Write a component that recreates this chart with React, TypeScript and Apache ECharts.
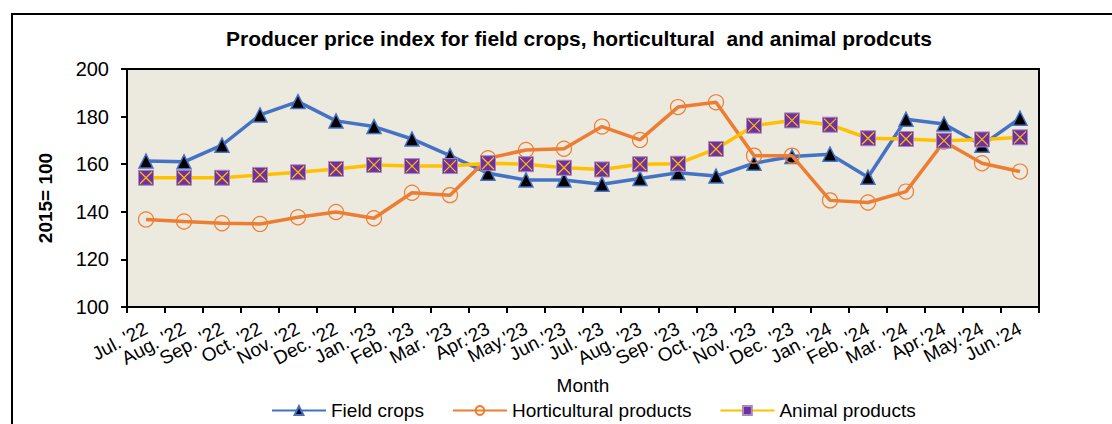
import React, { useEffect, useRef } from "react";
import * as echarts from "echarts";

const months = [
  "Jul. '22", "Aug. '22", "Sep. '22", "Oct. '22", "Nov. '22", "Dec. '22",
  "Jan. '23", "Feb. '23", "Mar. '23", "Apr.'23", "May.'23", "Jun.'23",
  "Jul. '23", "Aug. '23", "Sep. '23", "Oct. '23", "Nov. '23", "Dec. '23",
  "Jan. '24", "Feb. '24", "Mar. '24", "Apr.'24", "May.'24", "Jun.'24",
];

const fieldCrops = [
  161.3, 161.0, 168.0, 180.7, 186.3, 178.2, 175.8, 170.6, 163.6, 156.2, 153.4, 153.4,
  151.6, 154.0, 156.4, 155.0, 160.4, 163.2, 164.2, 154.5, 178.9, 176.9, 168.0, 179.3,
];

const horticultural = [
  136.8, 135.9, 135.2, 134.9, 137.7, 139.9, 137.3, 148.0, 147.0, 162.5, 166.0, 166.5,
  175.8, 170.2, 184.0, 186.0, 163.6, 163.6, 144.8, 143.9, 148.5, 169.5, 160.4, 156.9,
];

const animal = [
  154.3, 154.3, 154.3, 155.5, 156.6, 158.0, 159.7, 159.2, 159.2, 160.4, 160.0, 158.5,
  157.8, 160.0, 160.2, 166.4, 176.2, 178.4, 176.6, 170.9, 170.6, 169.9, 170.4, 171.3,
];

const yTicks = { min: 100, max: 200, interval: 20 };

const FONT = "'Liberation Sans', Arial, sans-serif";

export default function App() {
  const ref = useRef<HTMLDivElement>(null);

  useEffect(() => {
    if (!ref.current) return;
    const chart = echarts.init(ref.current, null, { renderer: "svg" });
    chart.setOption({
      animation: false,
      backgroundColor: "#ffffff",
      textStyle: { fontFamily: FONT },
      title: {
        text: "Producer price index for field crops, horticultural  and animal prodcuts",
        left: 221,
        top: 23,
        textStyle: { fontFamily: FONT, fontSize: 21, fontWeight: "bold", color: "#000" },
      },
      graphic: [
        {
          type: "rect",
          shape: { x: 12, y: 14, width: 1200, height: 500 },
          style: { fill: "none", stroke: "#000", lineWidth: 2 },
          silent: true,
        },
        {
          type: "text",
          x: 45,
          y: 198,
          rotation: Math.PI / 2,
          style: {
            text: "2015= 100",
            fontFamily: FONT,
            fontSize: 19,
            fontWeight: "bold",
            fill: "#000",
            align: "center",
            verticalAlign: "middle",
          },
        },
      ],
      legend: {
        data: ["Field crops", "Horticultural products", "Animal products"],
        left: 266,
        top: 396,
        itemWidth: 54,
        itemHeight: 11,
        itemGap: 28,
        textStyle: { fontFamily: FONT, fontSize: 19, color: "#000" },
      },
      grid: {
        left: 127,
        top: 69,
        right: 73,
        bottom: 117,
        show: true,
        backgroundColor: "#ECE9DF",
        borderColor: "#000",
        borderWidth: 2,
        containLabel: false,
      },
      xAxis: {
        type: "category",
        data: months,
        boundaryGap: true,
        name: "Month",
        nameLocation: "middle",
        nameGap: 69,
        nameTextStyle: { fontFamily: FONT, fontSize: 19, color: "#000" },
        axisLine: { show: true, lineStyle: { color: "#000", width: 2 } },
        axisTick: { show: true, alignWithLabel: false, length: 6, lineStyle: { color: "#000", width: 2 } },
        axisLabel: {
          interval: 0,
          rotate: 28,
          margin: 20,
          fontFamily: FONT,
          fontSize: 19,
          color: "#000",
        },
        splitLine: { show: false },
      },
      yAxis: {
        type: "value",
        min: yTicks.min,
        max: yTicks.max,
        interval: yTicks.interval,
        axisLine: { show: true, lineStyle: { color: "#000", width: 2 } },
        axisTick: { show: true, length: 6, lineStyle: { color: "#000", width: 2 } },
        axisLabel: { fontFamily: FONT, fontSize: 20, color: "#000", margin: 18 },
        splitLine: { show: false },
      },
      series: [
        {
          name: "Field crops",
          type: "line",
          data: fieldCrops,
          symbol: "triangle",
          symbolSize: 14,
          lineStyle: { color: "#4472C4", width: 3.5 },
          itemStyle: { color: "#000", borderColor: "#4472C4", borderWidth: 1.5 },
          z: 2,
        },
        {
          name: "Horticultural products",
          type: "line",
          data: horticultural,
          symbol: "circle",
          symbolSize: 15,
          lineStyle: { color: "#ED7D31", width: 3.5 },
          itemStyle: { color: "rgba(0,0,0,0)", borderColor: "#ED7D31", borderWidth: 1.2 },
          z: 3,
        },
        {
          name: "Animal products",
          type: "line",
          data: animal,
          symbol: "rect",
          symbolSize: 15,
          lineStyle: { color: "#FFC000", width: 3.5 },
          itemStyle: { color: "#7030A0", borderColor: "#A58BC0", borderWidth: 1 },
          z: 4,
        },
        {
          name: "animalX",
          type: "line",
          data: animal,
          symbol: "path://M0,0L10,10M10,0L0,10",
          symbolSize: 12,
          lineStyle: { width: 0, opacity: 0 },
          itemStyle: { color: "rgba(0,0,0,0)", borderColor: "#FFC000", borderWidth: 1.2 },
          z: 5,
          silent: true,
        },
      ],
    });
    return () => chart.dispose();
  }, []);

  return (
    <div
      ref={ref}
      style={{ position: "fixed", left: 0, top: 0, width: 1112, height: 424 }}
    />
  );
}
